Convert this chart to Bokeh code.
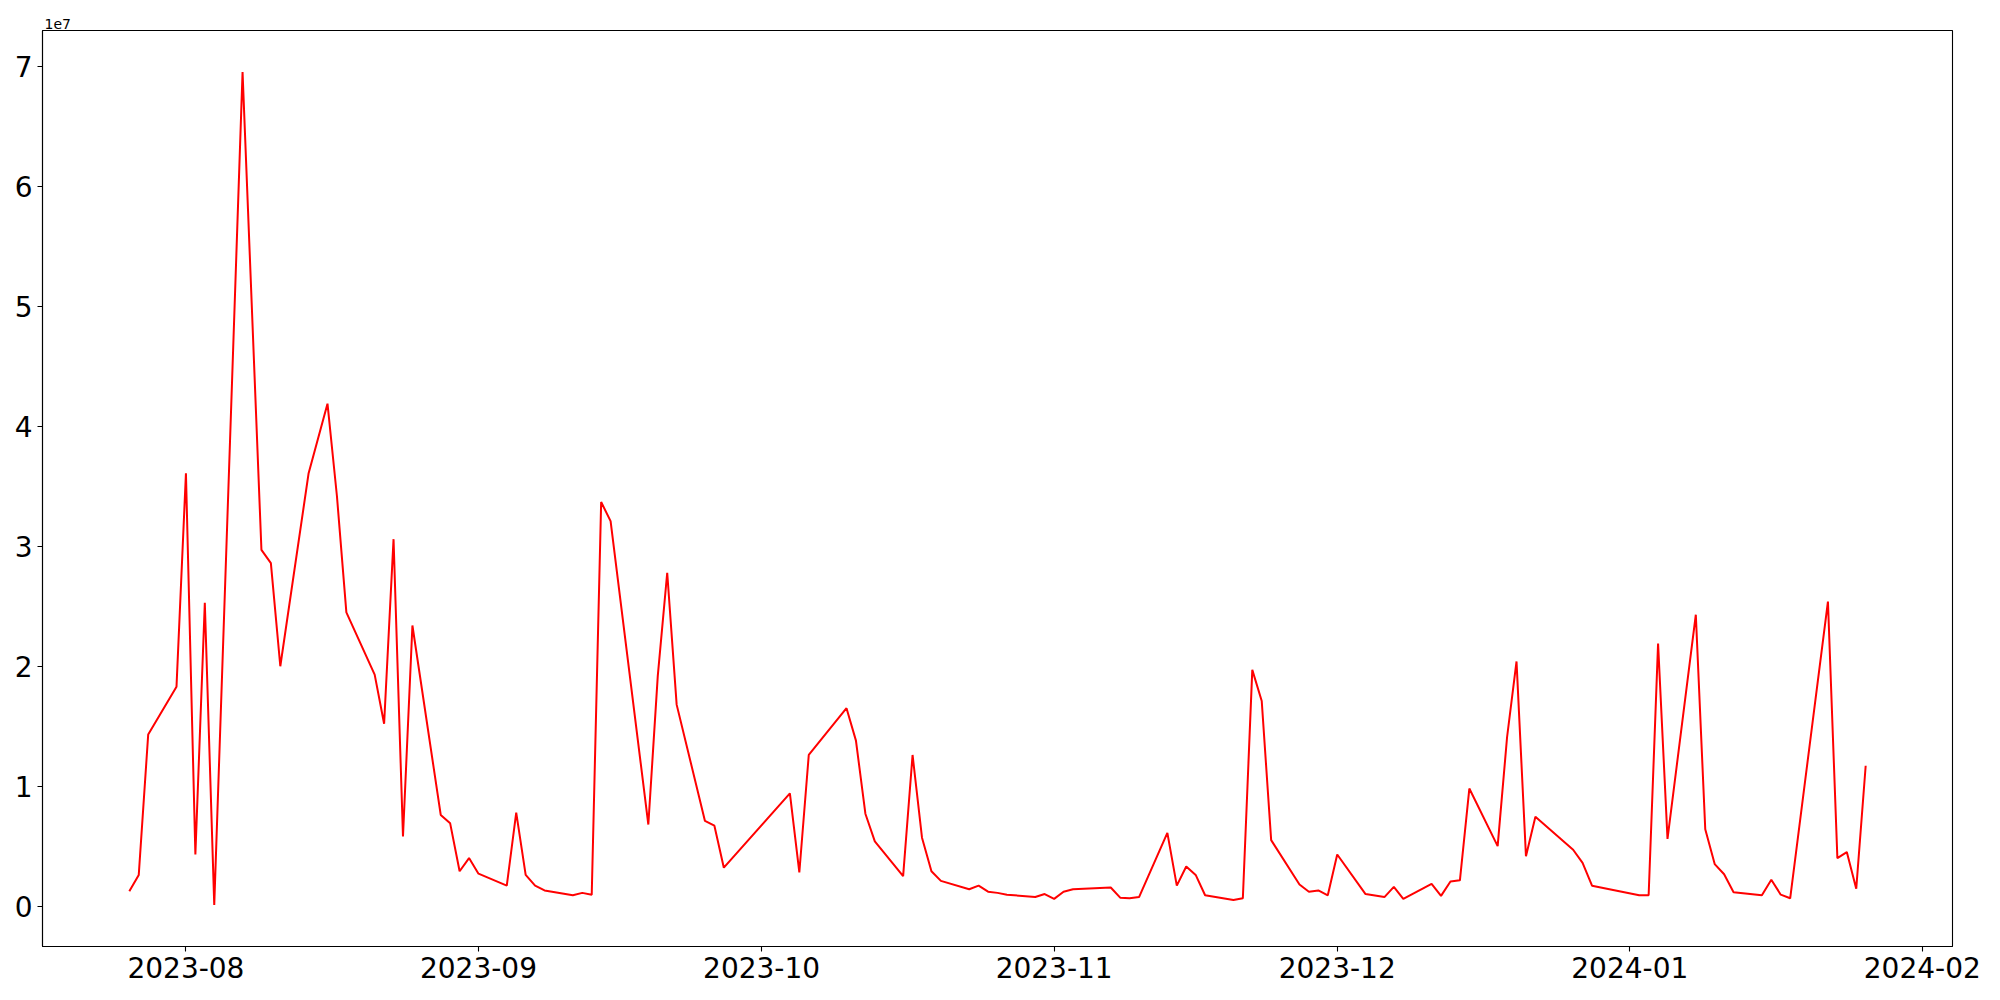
import pandas as pd
from bokeh.plotting import figure
from bokeh.models import (Range1d, FixedTicker, CustomJSTickFormatter,
                          DatetimeTickFormatter, ColumnDataSource)
from bokeh.embed import file_html
from bokeh.resources import INLINE

# ---- data ----
dates = [
    "2023-07-26", "2023-07-27", "2023-07-28", "2023-07-31",
    "2023-08-01", "2023-08-02", "2023-08-03", "2023-08-04", "2023-08-07",
    "2023-08-09", "2023-08-10", "2023-08-11", "2023-08-14", "2023-08-16",
    "2023-08-17", "2023-08-18", "2023-08-21", "2023-08-22", "2023-08-23",
    "2023-08-24", "2023-08-25", "2023-08-28", "2023-08-29", "2023-08-30",
    "2023-08-31", "2023-09-01", "2023-09-04", "2023-09-05", "2023-09-06",
    "2023-09-07", "2023-09-08", "2023-09-11", "2023-09-12", "2023-09-13",
    "2023-09-14", "2023-09-15", "2023-09-19", "2023-09-20", "2023-09-21",
    "2023-09-22", "2023-09-25", "2023-09-26", "2023-09-27", "2023-10-04",
    "2023-10-05", "2023-10-06", "2023-10-10", "2023-10-11", "2023-10-12",
    "2023-10-13", "2023-10-16", "2023-10-17", "2023-10-18", "2023-10-19",
    "2023-10-20", "2023-10-23", "2023-10-24", "2023-10-25", "2023-10-26",
    "2023-10-27", "2023-10-30", "2023-10-31", "2023-11-01", "2023-11-02",
    "2023-11-03", "2023-11-07", "2023-11-08", "2023-11-09", "2023-11-10",
    "2023-11-13", "2023-11-14", "2023-11-15", "2023-11-16", "2023-11-17",
    "2023-11-20", "2023-11-21", "2023-11-22", "2023-11-23", "2023-11-24",
    "2023-11-27", "2023-11-28", "2023-11-29", "2023-11-30", "2023-12-01",
    "2023-12-04", "2023-12-06", "2023-12-07", "2023-12-08", "2023-12-11",
    "2023-12-12", "2023-12-13", "2023-12-14", "2023-12-15", "2023-12-18",
    "2023-12-19", "2023-12-20", "2023-12-21", "2023-12-22", "2023-12-26",
    "2023-12-27", "2023-12-28", "2024-01-02", "2024-01-03", "2024-01-04",
    "2024-01-05", "2024-01-08", "2024-01-09", "2024-01-10", "2024-01-11",
    "2024-01-12", "2024-01-15", "2024-01-16", "2024-01-17", "2024-01-18",
    "2024-01-22", "2024-01-23", "2024-01-24", "2024-01-25", "2024-01-26",
]

values = [
    1.24e6, 2.6e6, 1.43e7, 1.83e7,
    3.61e7, 4.3e6, 2.53e7, 1.0e5, 6.955e7,
    2.97e7, 2.86e7, 2.00e7, 3.61e7, 4.19e7,
    3.42e7, 2.45e7, 1.93e7, 1.52e7, 3.06e7,
    5.8e6, 2.34e7, 7.6e6, 6.9e6, 2.9e6,
    4.0e6, 2.7e6, 1.7e6, 7.8e6, 2.6e6,
    1.7e6, 1.3e6, 9.0e5, 1.1e6, 9.5e5,
    3.37e7, 3.21e7, 6.8e6, 1.92e7, 2.78e7,
    1.68e7, 7.1e6, 6.7e6, 3.2e6, 9.4e6,
    2.8e6, 1.26e7, 1.65e7, 1.38e7, 7.7e6,
    5.4e6, 2.5e6, 1.26e7, 5.7e6, 2.9e6,
    2.1e6, 1.4e6, 1.7e6, 1.2e6, 1.1e6,
    9.5e5, 7.5e5, 1.0e6, 6.0e5, 1.2e6,
    1.4e6, 1.55e6, 7.0e5, 6.5e5, 7.5e5,
    6.1e6, 1.7e6, 3.3e6, 2.6e6, 9.0e5,
    5.0e5, 6.5e5, 1.97e7, 1.71e7, 5.5e6,
    1.8e6, 1.2e6, 1.3e6, 9.0e5, 4.3e6,
    1.0e6, 7.5e5, 1.6e6, 6.0e5, 1.85e6,
    8.5e5, 2.05e6, 2.15e6, 9.8e6, 5.0e6,
    1.41e7, 2.04e7, 4.15e6, 7.45e6, 4.7e6,
    3.6e6, 1.7e6, 9.0e5, 9.0e5, 2.19e7,
    5.6e6, 2.43e7, 6.4e6, 3.5e6, 2.65e6,
    1.15e6, 9.0e5, 2.2e6, 9.5e5, 6.5e5,
    2.54e7, 4.0e6, 4.5e6, 1.45e6, 1.17e7,
]

x_tick_labels = ["2023-08", "2023-09", "2023-10", "2023-11",
                 "2023-12", "2024-01", "2024-02"]
y_tick_values = [0, 1e7, 2e7, 3e7, 4e7, 5e7, 6e7, 7e7]
offset_text = "1e7"

# ---- build ----
x = pd.to_datetime(dates)
src = ColumnDataSource(data=dict(x=x, y=values))

x0, x1 = x.min(), x.max()
xpad = (x1 - x0) * 0.05
y0, y1 = min(values), max(values)
ypad = (y1 - y0) * 0.05

p = figure(width=1992, height=992, x_axis_type="datetime",
           output_backend="svg", toolbar_location=None,
           x_range=Range1d(x0 - xpad, x1 + xpad),
           y_range=Range1d(y0 - ypad, y1 + ypad),
           min_border_left=42, min_border_right=40,
           min_border_top=30, min_border_bottom=46)

p.line("x", "y", source=src, color="red", line_width=2)

p.xgrid.visible = False
p.ygrid.visible = False
p.outline_line_color = "black"
p.outline_line_width = 1.1
p.background_fill_color = "white"
p.border_fill_color = "white"

font = "DejaVu Sans"

# offset text shown as a small title above the top-left corner
p.title.text = offset_text
p.title.align = "left"
p.title.text_font = font
p.title.text_font_size = "14px"
p.title.text_font_style = "normal"
p.title.text_color = "black"
p.title.offset = 2
p.title.standoff = 3

tick_ms = [pd.Timestamp(s + "-01").value / 1e6 for s in x_tick_labels]
p.xaxis.ticker = FixedTicker(ticks=tick_ms)
fmt = "%Y-%m"
p.xaxis.formatter = DatetimeTickFormatter(
    microseconds=fmt, milliseconds=fmt, seconds=fmt, minsec=fmt,
    minutes=fmt, hourmin=fmt, hours=fmt, days=fmt, months=fmt, years=fmt)
p.yaxis.ticker = FixedTicker(ticks=y_tick_values)
p.yaxis.formatter = CustomJSTickFormatter(code="return (tick/1e7).toFixed(0);")

for ax in (p.xaxis, p.yaxis):
    ax.axis_line_color = "black"
    ax.axis_line_width = 1.1
    ax.major_tick_line_color = "black"
    ax.major_tick_line_width = 1.1
    ax.major_tick_out = 5
    ax.major_tick_in = 0
    ax.minor_tick_line_color = None
    ax.major_label_text_font = font
    ax.major_label_text_font_size = "28px"
    ax.major_label_text_color = "black"
    ax.major_label_standoff = 5

open("out.html", "w").write(file_html(p, INLINE))
